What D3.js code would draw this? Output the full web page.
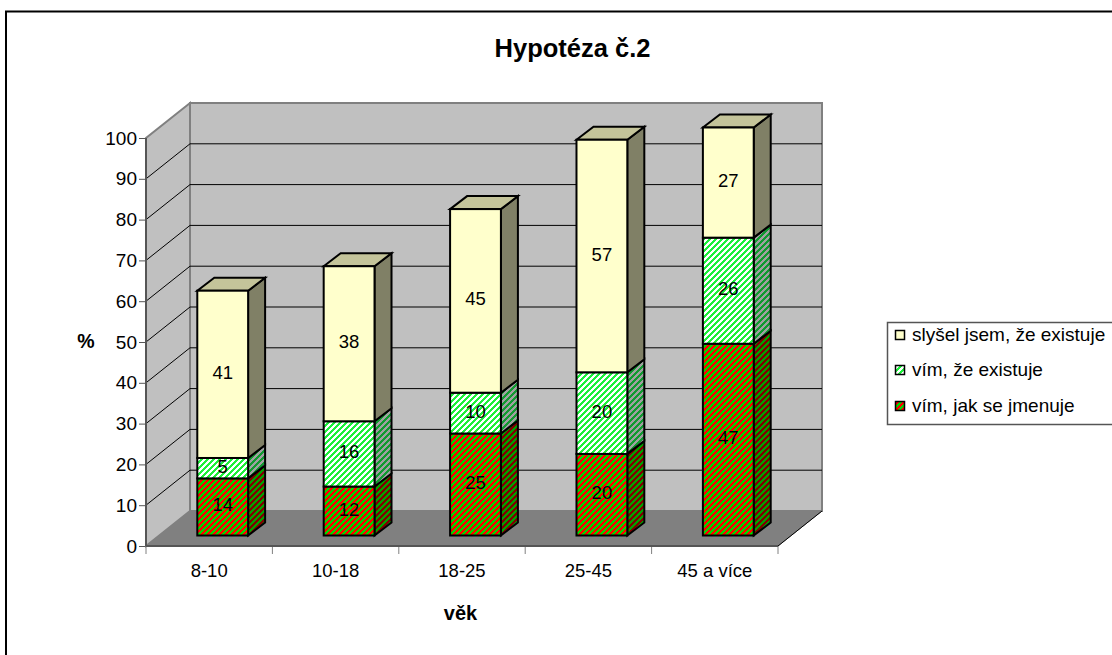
<!DOCTYPE html>
<html><head><meta charset="utf-8">
<script src="https://cdn.jsdelivr.net/npm/d3@7"></script>
<style>html,body{margin:0;padding:0;background:#fff}svg{display:block}text{font-family:"Liberation Sans",Arial,sans-serif;fill:#000}</style>
</head><body><div id="c"></div>
<script>
const categories = ["8-10","10-18","18-25","25-45","45 a více"];
const seriesNames = ["vím, jak se jmenuje","vím, že existuje","slyšel jsem, že existuje"];
const jmenuje = [14,12,25,20,47];
const existuje = [5,16,10,20,26];
const slysel = [41,38,45,57,27];
const yTicks = [0,10,20,30,40,50,60,70,80,90,100];
const titleText = "Hypotéza č.2", xTitle = "věk", yTitle = "%";

const W=1112,H=655;
const svg=d3.select("#c").append("svg").attr("width",W).attr("height",H);
const x=d3.scaleBand().domain(categories).range([146,778]).paddingInner(0.59).paddingOuter(0.295);
const y=d3.scaleLinear().domain([0,100]).range([546,138]);
const DX=44,DY=-35;
const bdx=17,bdy=-13, offX=14, offY=-10.5;

// pixel-aligned diagonal hatch patterns, so the colours stay pure
const defs=svg.append("defs");
function pat(id,bg,fg,w){
  const n=6;
  const p=defs.append("pattern").attr("id",id).attr("width",n).attr("height",n).attr("patternUnits","userSpaceOnUse");
  p.append("rect").attr("width",n).attr("height",n).attr("fill",bg).attr("shape-rendering","crispEdges");
  d3.range(n).forEach(r=>d3.range(w).forEach(k=>{
    p.append("rect").attr("x",(n-1-r+k)%n).attr("y",r).attr("width",1).attr("height",1)
      .attr("fill",fg).attr("shape-rendering","crispEdges");
  }));
}
pat("redF","#ff0000","#00d800",3);
pat("redS","#800000","#00a000",3);
pat("grnF","#ffffff","#1cf03c",3);
pat("grnS","#a0a0a0","#109a30",3);
const fills=[
 {front:"url(#redF)",side:"url(#redS)",top:"url(#redS)"},
 {front:"url(#grnF)",side:"url(#grnS)",top:"url(#grnS)"},
 {front:"#ffffcc",side:"#808066",top:"#c4c49a"}];

svg.append("rect").attr("x",6).attr("y",11.5).attr("width",W+20).attr("height",H+20)
  .attr("fill","#fff").attr("stroke","#000").attr("stroke-width",2);

// walls
const x0=x.range()[0],x1=x.range()[1];
const poly=(pts,fill,stroke,sw)=>svg.append("polygon").attr("points",pts.map(p=>p.join(",")).join(" "))
  .attr("fill",fill).attr("stroke",stroke).attr("stroke-width",sw);
poly([[x0,y(0)],[x0+DX,y(0)+DY],[x1+DX,y(0)+DY],[x1,y(0)]],"#808080","#808080",1);
poly([[x0,y(0)],[x0,y(100)],[x0+DX,y(100)+DY],[x0+DX,y(0)+DY]],"#c0c0c0","#808080",2);
poly([[x0+DX,y(100)+DY],[x1+DX,y(100)+DY],[x1+DX,y(0)+DY],[x0+DX,y(0)+DY]],"#c0c0c0","#808080",2);
svg.append("polyline").attr("points",`${x0},${y(0)} ${x1},${y(0)} ${x1+DX},${y(0)+DY}`)
  .attr("fill","none").attr("stroke","#000").attr("stroke-width",1);
// gridlines
yTicks.filter(t=>t>0&&t<100).forEach(t=>{
  svg.append("polyline").attr("points",`${x0},${y(t)} ${x0+DX},${y(t)+DY} ${x1+DX},${y(t)+DY}`)
    .attr("fill","none").attr("stroke","#000").attr("stroke-width",1);
});

// axes
const yAxis=d3.axisLeft(y).tickValues(yTicks).tickSize(7).tickPadding(2);
const gy=svg.append("g").attr("transform",`translate(${x0},0)`).call(yAxis);
gy.selectAll("path").attr("stroke","#555").attr("stroke-width",2).attr("d",`M0,${y(0)}V${y(100)}`);
gy.selectAll("line").attr("stroke","#555");
gy.selectAll("text").style("font-size","19px").style("font-family",'"Liberation Sans"');
const gx=svg.append("g").attr("transform",`translate(0,${y(0)})`);
d3.range(categories.length+1).forEach(i=>{
  const px=x0+i*x.step();
  gx.append("line").attr("x1",px).attr("x2",px).attr("y1",0).attr("y2",8).attr("stroke","#808080");
});
gx.append("line").attr("x1",x0).attr("x2",x1).attr("y1",0).attr("y2",0).attr("stroke","#555").attr("stroke-width",2);
categories.forEach((c,i)=>{
  gx.append("text").attr("x",x(c)+x.bandwidth()/2).attr("y",31).attr("text-anchor","middle").style("font-size","18.5px").text(c);
});

// bars
const series=[jmenuje,existuje,slysel];
categories.forEach((c,i)=>{
  let acc=0;
  const L=x(c)+offX,R=L+x.bandwidth()-1;
  series.forEach((vals,s)=>{
    const v=vals[i];
    const yb=y(acc)+offY,yt=y(acc+v)+offY;
    const f=fills[s];
    poly([[R,yb],[R+bdx,yb+bdy],[R+bdx,yt+bdy],[R,yt]],f.side,"#000",2);
    if(s===2) poly([[L,yt],[L+bdx,yt+bdy],[R+bdx,yt+bdy],[R,yt]],f.top,"#000",2);
    svg.append("rect").attr("x",L).attr("y",yt).attr("width",R-L).attr("height",yb-yt)
      .attr("fill",f.front).attr("stroke","#000").attr("stroke-width",2);
    svg.append("text").attr("x",(L+R)/2).attr("y",(yb+yt)/2+4.5).attr("text-anchor","middle")
      .style("font-size","18.5px").text(v);
    acc+=v;
  });
});

// titles
svg.append("text").attr("x",572.5).attr("y",57).attr("text-anchor","middle").style("font-size","25.5px").style("font-weight","bold").text(titleText);
svg.append("text").attr("x",86).attr("y",348).attr("text-anchor","middle").style("font-size","19.5px").style("font-weight","bold").text(yTitle);
svg.append("text").attr("x",460.5).attr("y",620).attr("text-anchor","middle").style("font-size","20px").style("font-weight","bold").text(xTitle);

// legend
svg.append("rect").attr("x",887.5).attr("y",322.5).attr("width",240).attr("height",102).attr("fill","#fff").attr("stroke","#555").attr("stroke-width",1.5);
const legOrder=[2,1,0], legY=[335,370,406];
legOrder.forEach((s,k)=>{
  const g=svg.append("g");
  g.append("rect").attr("x",895.5).attr("y",legY[k]-4.5).attr("width",9).attr("height",9)
    .attr("fill",fills[s].front).attr("stroke","#000").attr("stroke-width",1.5);
  g.append("text").attr("x",912).attr("y",legY[k]+6).style("font-size","19px").text(seriesNames[s]);
});
</script></body></html>
